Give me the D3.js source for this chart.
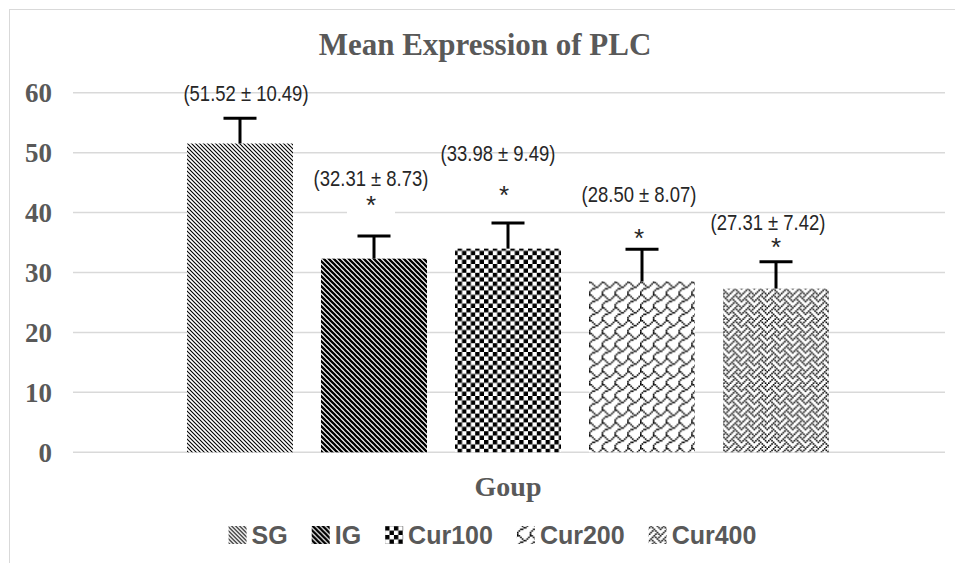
<!DOCTYPE html>
<html><head><meta charset="utf-8">
<script src="https://cdn.jsdelivr.net/npm/d3@7/dist/d3.min.js"></script>
<style>body{margin:0;background:#fff}svg{display:block}</style>
</head><body>
<svg id="c" width="955" height="563"></svg>
<script>
// ---- data ----
const groups = ["SG", "IG", "Cur100", "Cur200", "Cur400"];
const means = [51.52, 32.31, 33.98, 28.50, 27.31];
const sds = [10.49, 8.73, 9.49, 8.07, 7.42];
const errBars = [4.2, 3.8, 4.3, 5.4, 4.5];
const significant = [false, true, true, true, true];
const yTicks = [0, 10, 20, 30, 40, 50, 60];
const title = "Mean Expression of PLC";
const xTitle = "Goup";

// ---- layout (label anchor values in data units, x offsets in px) ----
const labelAt = [60.0, 45.8, 50.0, 43.1, 38.4];
const labelDx = [6, -3, -10, -3, -8];
const starAt = [null, 42.4, 44.2, 37.0, 35.4];
const starDx = [0, -3, -4, -3, 0];

const svg = d3.select("#c");
const gray = "#595959";

const y = d3.scaleLinear().domain([0, 60]).range([452.3, 92.7]);
const x = d3.scaleBand().domain(groups).range([187, 829]).paddingInner(0.209).paddingOuter(0);

// border
svg.append("rect").attr("x", 9.5).attr("y", 9.5).attr("width", 960).attr("height", 600)
  .attr("fill", "none").attr("stroke", "#d9d9d9").attr("stroke-width", 1);

// patterns
const defs = svg.append("defs");
function bitmapPattern(id, bytes, s, mirror) {
  const p = defs.append("pattern").attr("id", id).attr("patternUnits", "userSpaceOnUse")
    .attr("width", 8 * s).attr("height", 8 * s);
  p.append("rect").attr("width", 8 * s).attr("height", 8 * s).attr("fill", "#fff");
  bytes.forEach((b, r) => {
    for (let c = 0; c < 8; c++) {
      if (b & (0x80 >> c)) {
        const cc = mirror ? 7 - c : c;
        p.append("rect").attr("x", cc * s).attr("y", r * s).attr("width", s).attr("height", s).attr("fill", "#000");
      }
    }
  });
}
(function () {
  const t = 4;
  const p = defs.append("pattern").attr("id", "pSG").attr("patternUnits", "userSpaceOnUse").attr("width", t).attr("height", t);
  p.append("rect").attr("width", t).attr("height", t).attr("fill", "#fff");
  p.append("path").attr("d", `M-1,-1L${t+1},${t+1}M-1,${t-1}L1,${t+1}M${t-1},-1L${t+1},1`)
    .attr("stroke", "#000").attr("stroke-width", 1.1);
})();
(function () {
  const t = 5;
  const p = defs.append("pattern").attr("id", "pIG").attr("patternUnits", "userSpaceOnUse").attr("width", t).attr("height", t);
  p.append("rect").attr("width", t).attr("height", t).attr("fill", "#fff");
  p.append("path").attr("d", `M-1,-1L${t+1},${t+1}M-2,${t-2}L2,${t+2}M${t-2},-2L${t+2},2`)
    .attr("stroke", "#000").attr("stroke-width", 2.3);
})();
(function () {
  const t = 8.8, h = t / 2;
  const p = defs.append("pattern").attr("id", "pCur100").attr("patternUnits", "userSpaceOnUse").attr("width", t).attr("height", t);
  p.append("rect").attr("width", t).attr("height", t).attr("fill", "#fff");
  p.append("rect").attr("x", 0).attr("y", 0).attr("width", h).attr("height", h).attr("fill", "#000");
  p.append("rect").attr("x", h).attr("y", h).attr("width", h).attr("height", h).attr("fill", "#000");
})();
bitmapPattern("pCur200", [0x03, 0x84, 0x48, 0x30, 0x0C, 0x02, 0x01, 0x01], 1.6, true);
bitmapPattern("pCur400", [0x11, 0x2A, 0x44, 0xA2, 0x11, 0x28, 0x44, 0x8A], 1.6, false);
const fills = groups.map(g => `url(#p${g})`);

// gridlines
svg.append("g").selectAll("line").data(yTicks).join("line")
  .attr("x1", 73).attr("x2", 945)
  .attr("y1", d => y(d)).attr("y2", d => y(d))
  .attr("stroke", "#d9d9d9").attr("stroke-width", 1.5);

// y axis labels
const yAxis = d3.axisLeft(y).tickValues(yTicks).tickSize(0).tickPadding(0);
const ga = svg.append("g").attr("transform", "translate(52,0)").call(yAxis);
ga.select(".domain").remove();
ga.selectAll("text").attr("font-family", "'Liberation Serif','Times New Roman',serif")
  .attr("font-weight", "bold").attr("font-size", 27).attr("fill", gray).attr("dy", "0.34em");

// bars
svg.append("g").selectAll("rect").data(groups).join("rect")
  .attr("x", d => x(d)).attr("width", x.bandwidth())
  .attr("y", (d, i) => y(means[i])).attr("height", (d, i) => y(0) - y(means[i]))
  .attr("fill", (d, i) => fills[i]);

// error bars
const eb = svg.append("g").attr("stroke", "#000").attr("stroke-width", 3);
groups.forEach((g, i) => {
  const cx = x(g) + x.bandwidth() / 2;
  const top = y(means[i] + errBars[i]);
  eb.append("line").attr("x1", cx).attr("x2", cx).attr("y1", y(means[i])).attr("y2", top);
  eb.append("line").attr("x1", cx - 16.5).attr("x2", cx + 16.5).attr("y1", top).attr("y2", top);
});

// data labels
const lab = svg.append("g");
groups.forEach((g, i) => {
  const cx = x(g) + x.bandwidth() / 2;
  if (significant[i]) {
    const sy = y(starAt[i]);
    lab.append("rect").attr("x", cx + starDx[i] - 24).attr("y", sy - 16).attr("width", 48).attr("height", 32).attr("fill", "#fff");
  }
  const lx = cx + labelDx[i], ly = y(labelAt[i]);
  lab.append("text").attr("transform", `translate(${lx},${ly}) scale(0.84,1)`)
    .attr("dy", "0.36em")
    .attr("text-anchor", "middle")
    .attr("font-family", "'Liberation Sans',Arial,sans-serif")
    .attr("font-size", 22).attr("fill", "#262626")
    .text(`(${means[i].toFixed(2)} ± ${sds[i].toFixed(2)})`);
  if (significant[i]) {
    lab.append("text").attr("x", cx + starDx[i]).attr("y", y(starAt[i])).attr("dy", "0.62em")
      .attr("text-anchor", "middle")
      .attr("font-family", "'Liberation Sans',Arial,sans-serif")
      .attr("font-size", 26).attr("fill", "#262626").text("*");
  }
});

// title
svg.append("text").attr("x", 485).attr("y", 55).attr("text-anchor", "middle")
  .attr("font-family", "'Liberation Serif','Times New Roman',serif").attr("font-weight", "bold")
  .attr("font-size", 31).attr("fill", gray).text(title);

// x title
svg.append("text").attr("x", 508).attr("y", 496).attr("text-anchor", "middle")
  .attr("font-family", "'Liberation Serif','Times New Roman',serif").attr("font-weight", "bold")
  .attr("font-size", 28).attr("fill", gray).text(xTitle);

// legend
const lg = svg.append("g");
const items = [];
let cursor = 0;
groups.forEach((g, i) => {
  const it = lg.append("g");
  it.append("rect").attr("x", 0).attr("y", -9).attr("width", 18).attr("height", 18).attr("fill", fills[i]);
  const t = it.append("text").attr("x", 23).attr("y", 0).attr("dy", "0.36em")
    .attr("font-family", "'Liberation Sans',Arial,sans-serif").attr("font-weight", "bold")
    .attr("font-size", 25).attr("fill", gray).text(g);
  const w = 23 + t.node().getComputedTextLength();
  items.push({ it, off: cursor });
  cursor += w + 24;
});
const total = cursor - 24;
const lx0 = 492.5 - total / 2;
items.forEach(d => d.it.attr("transform", `translate(${lx0 + d.off},535)`));
</script>
</body></html>
